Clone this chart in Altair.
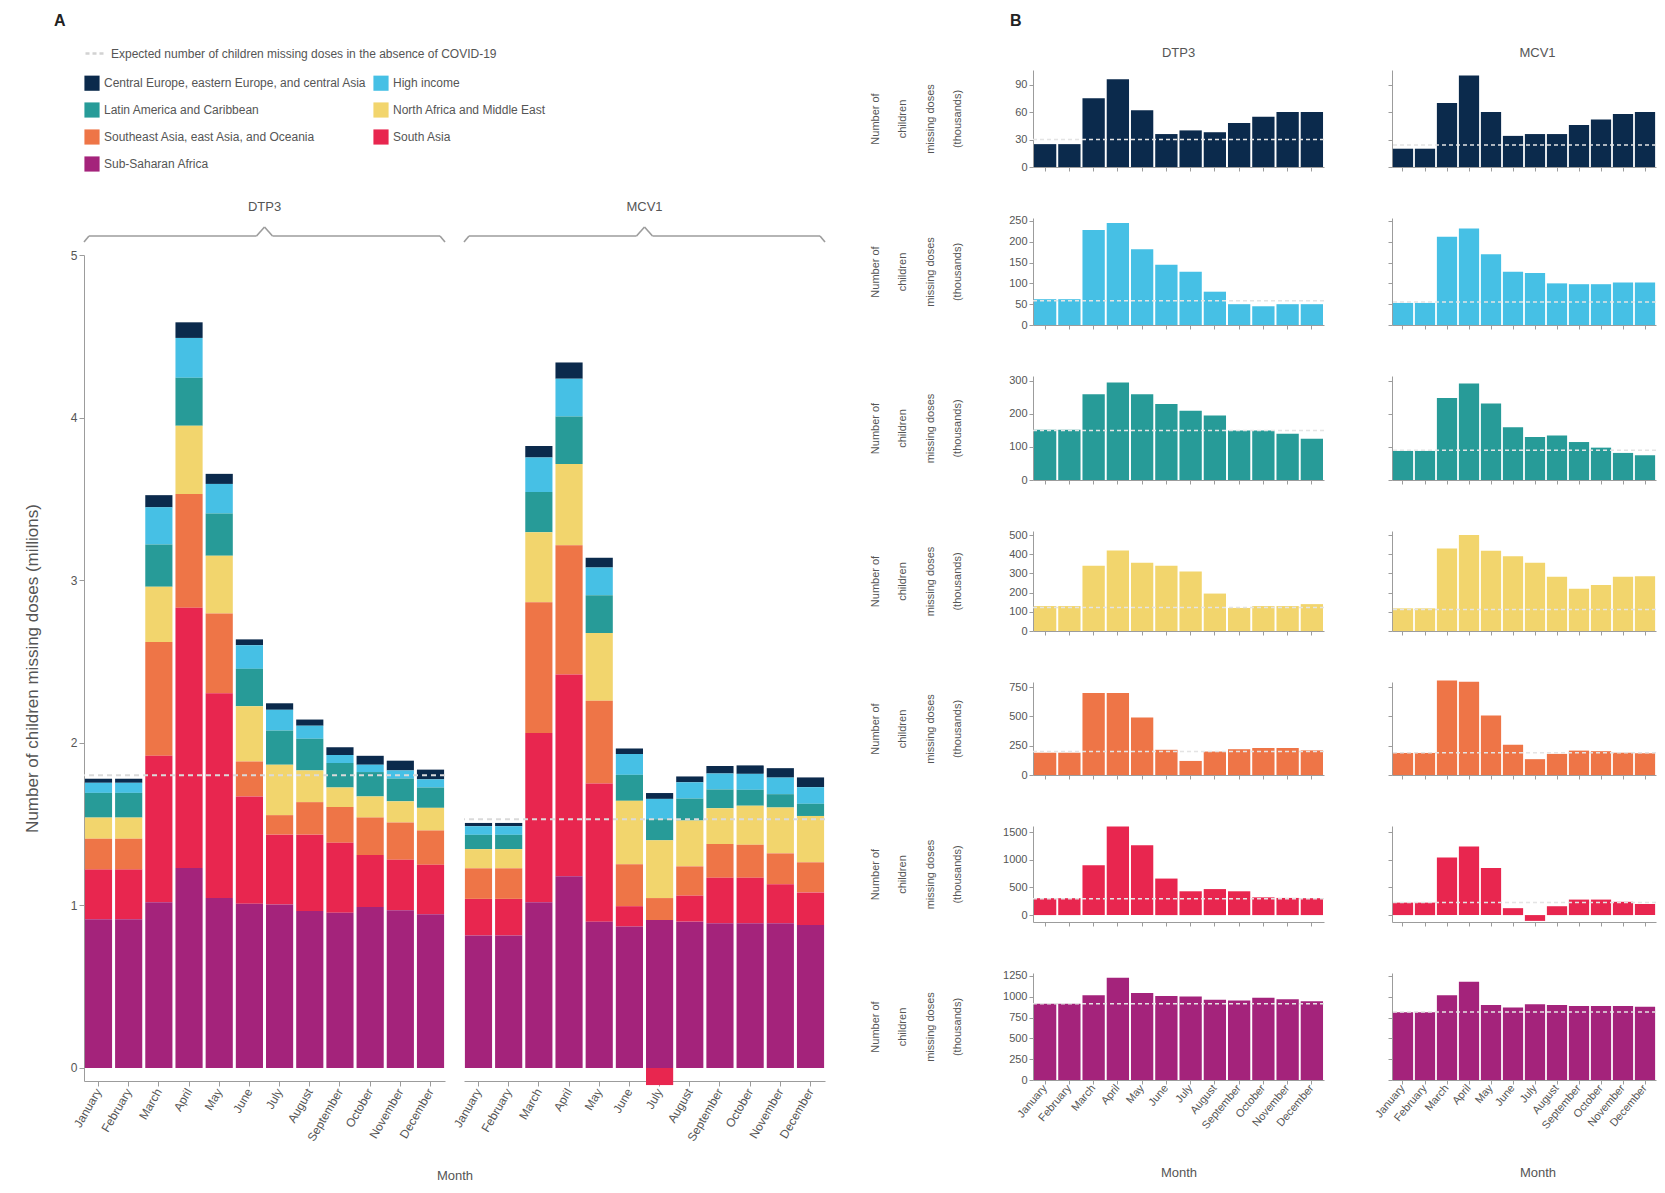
import altair as alt
import pandas as pd

MONTHS = ["January", "February", "March", "April", "May", "June", "July",
          "August", "September", "October", "November", "December"]
REGIONS = ["Central Europe, eastern Europe, and central Asia", "High income",
           "Latin America and Caribbean", "North Africa and Middle East",
           "Southeast Asia, east Asia, and Oceania", "South Asia", "Sub-Saharan Africa"]
COLORS = ["#0b2a4c", "#46c0e5", "#279b98", "#f2d56d", "#ee7547", "#e8264f", "#a4237b"]
VACCINES = ["DTP3", "MCV1"]
LEGEND_ORDER = [0, 2, 4, 6, 1, 3, 5]

# thousands of children missing doses, Jan..Dec 2020
DTP3_CEE = [25, 25, 75, 96, 62, 36, 40, 38, 48, 55, 60, 60]
DTP3_HI = [62, 62, 228, 245, 182, 145, 128, 80, 50, 45, 50, 50]
DTP3_LAC = [152, 152, 260, 295, 260, 230, 210, 195, 150, 150, 140, 125]
DTP3_NAME = [130, 130, 340, 420, 355, 340, 310, 195, 120, 130, 130, 140]
DTP3_SEA = [190, 190, 700, 700, 490, 215, 120, 200, 220, 230, 230, 210]
DTP3_SA = [305, 305, 900, 1600, 1260, 660, 430, 470, 430, 320, 310, 305]
DTP3_SSA = [915, 915, 1020, 1230, 1045, 1010, 1005, 965, 955, 990, 970, 945]

MCV1_CEE = [20, 20, 70, 100, 60, 34, 36, 36, 46, 52, 58, 60]
MCV1_HI = [53, 53, 212, 232, 170, 128, 125, 100, 98, 98, 102, 102]
MCV1_LAC = [88, 88, 248, 292, 232, 160, 130, 135, 115, 98, 82, 75]
MCV1_NAME = [118, 118, 430, 500, 418, 390, 355, 282, 220, 240, 282, 285]
MCV1_SEA = [188, 188, 805, 795, 508, 258, 135, 180, 208, 203, 190, 185]
MCV1_SA = [225, 225, 1040, 1240, 850, 125, -105, 160, 280, 280, 240, 200]
MCV1_SSA = [815, 815, 1020, 1180, 900, 870, 910, 900, 890, 890, 890, 880]

EXPECTED_TOTAL = [1.80, 1.53]          # millions, DTP3 / MCV1
EXPECTED_DTP3 = [30, 58, 150, 122, 200, 295, 915]   # thousands per region
EXPECTED_MCV1 = [24, 55, 90, 112, 190, 228, 818]
EXP_LABEL = "Expected number of children missing doses in the absence of COVID-19"

Y_TICKS = [[0, 30, 60, 90], [0, 50, 100, 150, 200, 250], [0, 100, 200, 300],
           [0, 100, 200, 300, 400, 500], [0, 250, 500, 750], [0, 500, 1000, 1500],
           [0, 250, 500, 750, 1000, 1250]]
Y_MIN = [0, 0, 0, 0, 0, -125, 0]
Y_MAX = [106, 257, 315, 521, 793, 1610, 1286]

SERIES = {
    "DTP3": [DTP3_CEE, DTP3_HI, DTP3_LAC, DTP3_NAME, DTP3_SEA, DTP3_SA, DTP3_SSA],
    "MCV1": [MCV1_CEE, MCV1_HI, MCV1_LAC, MCV1_NAME, MCV1_SEA, MCV1_SA, MCV1_SSA],
}
EXPECTED = {"DTP3": EXPECTED_DTP3, "MCV1": EXPECTED_MCV1}

rows = []
for v in VACCINES:
    for r, (reg, vals) in enumerate(zip(REGIONS, SERIES[v])):
        for m, val in zip(MONTHS, vals):
            rows.append({"vaccine": v, "region": reg, "order": 6 - r, "month": m,
                         "thousands": val, "millions": val / 1000.0})
df = pd.DataFrame(rows)

FONT = "Liberation Sans Narrow, Liberation Sans, sans-serif"
TEXT = "#555555"
AXC = "#9c9c9c"
ONE = pd.DataFrame({"k": [0]})
REG_DF = pd.DataFrame({"region": REGIONS})
EXP_DF = pd.DataFrame({"label": [EXP_LABEL]})

PA_W, PA_H = 361, 826
PB_W = {"DTP3": 291, "MCV1": 264}   # MCV1 column runs to the page edge
PB_H = [97, 107, 104, 100, 93, 96, 107]

COLOR_SCALE = alt.Scale(domain=[REGIONS[k] for k in LEGEND_ORDER],
                        range=[COLORS[k] for k in LEGEND_ORDER])


def label(txt, dx, dy, size=13, bold=False, align="center", baseline="middle", color=TEXT):
    return alt.Chart(ONE).mark_text(text=txt, fontSize=size, fontWeight="bold" if bold else "normal",
                                    align=align, baseline=baseline, color=color).encode(
        x=alt.value(dx), y=alt.value(dy))


def brace(W):
    y0, ye, yp, c = -19, -13, -28, W / 2.0
    segs = [(0, ye, 5, y0), (5, y0, c - 8, y0), (c - 8, y0, c, yp),
            (c, yp, c + 8, y0), (c + 8, y0, W - 5, y0), (W - 5, y0, W, ye)]
    return [alt.Chart(ONE).mark_rule(color=AXC, strokeWidth=1.6).encode(
        x=alt.value(a), y=alt.value(b), x2=alt.value(cx), y2=alt.value(cy))
        for a, b, cx, cy in segs]


# header of panel A: panel letter and legends
header = alt.layer(
    label("A", -30, -57, size=16, bold=True, align="left", baseline="top", color="#222222"),
    alt.Chart(REG_DF).mark_point(opacity=0, size=1).encode(
        x=alt.value(0), y=alt.value(0),
        color=alt.Color("region:N", scale=COLOR_SCALE,
                        legend=alt.Legend(orient="none", legendX=0, legendY=5, columns=2,
                                          title=None, symbolType="square", symbolSize=230,
                                          symbolStrokeWidth=0, symbolOpacity=1,
                                          labelFontSize=12, labelColor=TEXT, rowPadding=11,
                                          columnPadding=6, labelLimit=400))),
    alt.Chart(EXP_DF).mark_point(opacity=0, size=1).encode(
        x=alt.value(0), y=alt.value(0),
        stroke=alt.Stroke("label:N", scale=alt.Scale(domain=[EXP_LABEL], range=["#d2d2d2"]),
                          legend=alt.Legend(orient="none", legendX=0, legendY=-28, title=None,
                                            symbolType="stroke", symbolDash=[4, 3],
                                            symbolStrokeWidth=2.5, symbolSize=400,
                                            symbolOpacity=1, labelFontSize=12,
                                            labelColor=TEXT, labelLimit=600))),
).properties(width=10, height=8)


def panel_a(i, v):
    first = i == 0
    d = df[df.vaccine == v]
    x_axis = alt.Axis(labelAngle=-60, labelAlign="right", labelBaseline="middle",
                      labelFontSize=12, labelPadding=3, tickSize=5,
                      title="Month" if first else None, titleFontSize=13,
                      titleX=PA_W + 9.5, titleY=88)
    y_axis = alt.Axis(values=[0, 1, 2, 3, 4, 5], title="Number of children missing doses (millions)",
                      titleFontSize=17, titleX=-43, labelFontSize=12, tickSize=5) if first else None
    bars = alt.Chart(d).mark_bar().encode(
        x=alt.X("month:N", sort=MONTHS, scale=alt.Scale(paddingInner=0.1, paddingOuter=0.03),
                axis=x_axis),
        y=alt.Y("millions:Q", stack="zero", scale=alt.Scale(domain=[-0.08, 5], nice=False),
                axis=y_axis),
        color=alt.Color("region:N", scale=COLOR_SCALE, legend=None),
        order=alt.Order("order:Q", sort="ascending"),
    )
    exp_df = pd.DataFrame({"millions": [EXPECTED_TOTAL[i]]})
    rule = alt.Chart(exp_df).mark_rule(strokeDash=[5, 4], strokeWidth=2, color="#dadada").encode(
        y=alt.Y("millions:Q", axis=y_axis))
    return alt.layer(bars, rule, *brace(PA_W), label(v, PA_W / 2.0, -48)).properties(
        width=PA_W, height=PA_H)


def small(v, r):
    d = df[(df.vaccine == v) & (df.region == REGIONS[r])]
    last = r == 6
    left = v == "DTP3"
    x_axis = alt.Axis(labels=last, labelAngle=-50, labelAlign="right", labelBaseline="middle",
                      labelFontSize=11, labelPadding=2, tickSize=4,
                      title="Month" if last else None, titleFontSize=13, titleY=86,
                      titleX=145.5)
    y_axis = alt.Axis(values=Y_TICKS[r], labels=left, labelFontSize=11, tickSize=4, format="d",
                      title=["Number of", "children", "missing doses", "(thousands)"] if left else None,
                      titleFontSize=11, titleLineHeight=27.5, titleX=-153)
    bars = alt.Chart(d).mark_bar(color=COLORS[r]).encode(
        x=alt.X("month:N", sort=MONTHS, scale=alt.Scale(paddingInner=0.08, paddingOuter=0.04),
                axis=x_axis),
        y=alt.Y("thousands:Q", scale=alt.Scale(domain=[Y_MIN[r], Y_MAX[r]], nice=False),
                axis=y_axis),
    )
    rule = alt.Chart(pd.DataFrame({"thousands": [EXPECTED[v][r]]})).mark_rule(
        color="#e4e4e4", strokeDash=[4, 3], strokeWidth=1.5).encode(
        y=alt.Y("thousands:Q", axis=y_axis))
    layers = [bars, rule]
    if r == 0:
        layers.append(label(v, 145.5, -17))
        if left:
            layers.append(label("B", -23, -57, size=16, bold=True, align="left",
                                baseline="top", color="#222222"))
    return alt.layer(*layers).properties(width=PB_W[v], height=PB_H[r])


panelA = alt.vconcat(
    header,
    alt.hconcat(panel_a(0, "DTP3"), panel_a(1, "MCV1"), spacing=19, bounds="flush"),
    spacing=177, bounds="flush")

cells = []
for r in range(7):
    for v in VACCINES:
        cells.append(small(v, r))
panelB = alt.concat(*cells, columns=2, spacing={"row": 51, "column": 68}, bounds="flush")

chart = alt.hconcat(panelA, panelB, spacing=43).properties(
    padding={"left": 15, "top": 5, "right": 0, "bottom": 0}, background="white"
).configure(font=FONT).configure_view(stroke=None).configure_axis(
    domainColor=AXC, tickColor=AXC, labelColor=TEXT, titleColor=TEXT, grid=False,
    labelFont=FONT, titleFont=FONT, titleFontWeight="normal"
).configure_legend(labelFont=FONT)

chart.save("out.html", embed_options={"renderer": "svg", "actions": False})
